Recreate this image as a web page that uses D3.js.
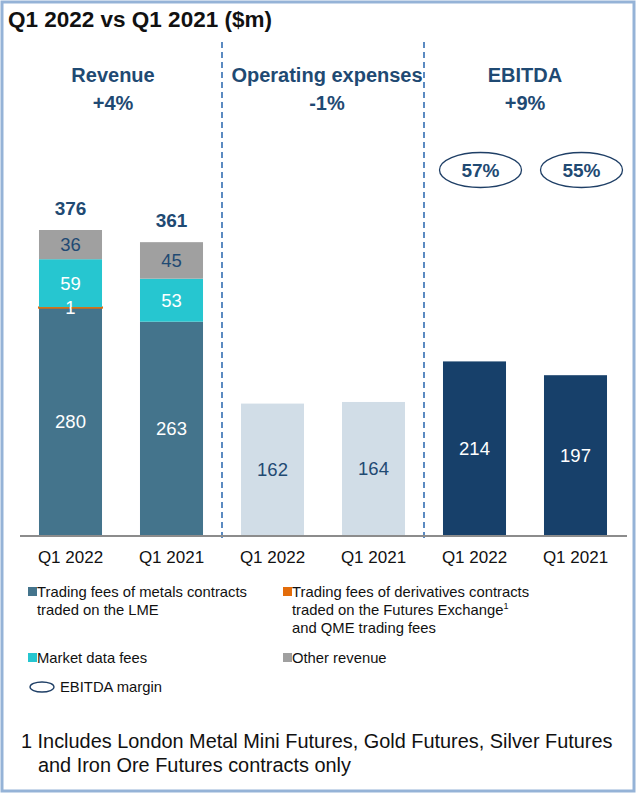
<!DOCTYPE html>
<html>
<head>
<meta charset="utf-8">
<script src="https://cdn.jsdelivr.net/npm/d3@7"></script>
<style>
  body { margin: 0; background: #fff; }
  svg { font-family: "Liberation Sans", Arial, sans-serif; }
</style>
</head>
<body>
<div id="chart"></div>
<script>
// data ($m)
const periods = ["Q1 2022", "Q1 2021"];
const tradingLME = [280, 263];
const tradingFutures = [1, 0];
const marketData = [59, 53];
const otherRevenue = [36, 45];
const revenueTotal = [376, 361];
const opex = [162, 164];
const ebitda = [214, 197];
const ebitdaMargin = ["57%", "55%"];
const sections = ["Revenue", "Operating expenses", "EBITDA"];
const sectionChange = ["+4%", "-1%", "+9%"];

const W = 637, H = 794;
const cText = "#1f4a73";
const colors = {
  lme: "#44748c",
  fut: "#e36c0a",
  mkt: "#26c6d0",
  oth: "#a0a0a0",
  opex: "#d1dde7",
  ebitda: "#17406a"
};

const svg = d3.select("#chart").append("svg")
  .attr("width", W)
  .attr("height", H);

// frame
svg.append("rect")
  .attr("x", 2).attr("y", 2)
  .attr("width", W - 5).attr("height", H - 5)
  .attr("fill", "none")
  .attr("stroke", "#95b3d7")
  .attr("stroke-width", 3);

svg.append("text")
  .attr("x", 8).attr("y", 27)
  .style("font-size", "22.5px")
  .style("font-weight", "bold")
  .attr("fill", "#111")
  .text("Q1 2022 vs Q1 2021 ($m)");

// one band per bar
const keys = [];
sections.forEach((s, i) => periods.forEach((p, j) => keys.push(i + "-" + j)));

const x = d3.scaleBand()
  .domain(keys)
  .range([20, 626])
  .paddingInner(0.376)
  .paddingOuter(0.188);

const y = d3.scaleLinear()
  .domain([0, 376])
  .range([535, 230]);

const bw = x.bandwidth();
const sectionCenter = i => (x(i + "-0") + x(i + "-1") + bw) / 2;
const headerShift = [-8, 4, 0];

// section dividers
[0, 1].forEach(i => {
  const xd = (x(i + "-1") + bw + x((i + 1) + "-0")) / 2;
  svg.append("line")
    .attr("x1", xd).attr("x2", xd)
    .attr("y1", 42).attr("y2", 540)
    .attr("stroke", "#4a7ebb")
    .attr("stroke-width", 1.8)
    .attr("stroke-dasharray", "6,4");
});

// section headers
sections.forEach((s, i) => {
  const cx = sectionCenter(i) + headerShift[i];
  svg.append("text")
    .attr("x", cx).attr("y", 82)
    .attr("text-anchor", "middle")
    .style("font-size", "20px").style("font-weight", "bold")
    .attr("fill", cText)
    .text(s);
  svg.append("text")
    .attr("x", cx).attr("y", 110)
    .attr("text-anchor", "middle")
    .style("font-size", "20px").style("font-weight", "bold")
    .attr("fill", cText)
    .text(sectionChange[i]);
});

// revenue stacks
const stackKeys = ["lme", "fut", "mkt", "oth"];
const revRows = periods.map((p, j) => ({
  key: "0-" + j,
  lme: tradingLME[j], fut: tradingFutures[j], mkt: marketData[j], oth: otherRevenue[j]
}));
const stacked = d3.stack().keys(stackKeys)(revRows);
const labelColor = { lme: "#fff", fut: "#fff", mkt: "#fff", oth: cText };

stacked.forEach(layer => {
  layer.forEach(d => {
    const v = d[1] - d[0];
    if (v <= 0) return;
    if (layer.key === "fut") {
      svg.append("rect")
        .attr("x", x(d.data.key) - 1).attr("width", bw + 2)
        .attr("y", y(d[1]) - 0.6).attr("height", 2.2)
        .attr("fill", colors.fut);
    } else {
      svg.append("rect")
        .attr("x", x(d.data.key)).attr("width", bw)
        .attr("y", y(d[1])).attr("height", y(d[0]) - y(d[1]))
        .attr("fill", colors[layer.key]);
    }
  });
});
stacked.forEach(layer => {
  layer.forEach(d => {
    const v = d[1] - d[0];
    if (v <= 0) return;
    svg.append("text")
      .attr("x", x(d.data.key) + bw / 2)
      .attr("y", y((d[0] + d[1]) / 2))
      .attr("dy", "0.35em")
      .attr("text-anchor", "middle")
      .style("font-size", "18.5px")
      .attr("fill", labelColor[layer.key])
      .text(v);
  });
});
revenueTotal.forEach((t, j) => {
  svg.append("text")
    .attr("x", x("0-" + j) + bw / 2).attr("y", y(t) - 15)
    .attr("text-anchor", "middle")
    .style("font-size", "19px").style("font-weight", "bold")
    .attr("fill", cText)
    .text(t);
});

// opex and ebitda bars
const simple = [
  { sec: 1, vals: opex, fill: colors.opex, txt: cText },
  { sec: 2, vals: ebitda, fill: colors.ebitda, txt: "#fff" }
];
simple.forEach(s => {
  s.vals.forEach((v, j) => {
    const k = s.sec + "-" + j;
    svg.append("rect")
      .attr("x", x(k)).attr("width", bw)
      .attr("y", y(v)).attr("height", y(0) - y(v))
      .attr("fill", s.fill);
    svg.append("text")
      .attr("x", x(k) + bw / 2).attr("y", y(v / 2))
      .attr("dy", "0.35em")
      .attr("text-anchor", "middle")
      .style("font-size", "18.5px")
      .attr("fill", s.txt)
      .text(v);
  });
});

// EBITDA margin ellipses
ebitdaMargin.forEach((m, j) => {
  const cx = x("2-" + j) + bw / 2 + 6;
  svg.append("ellipse")
    .attr("cx", cx).attr("cy", 170)
    .attr("rx", 41).attr("ry", 17.5)
    .attr("fill", "none")
    .attr("stroke", "#1f3f66").attr("stroke-width", 1.3);
  svg.append("text")
    .attr("x", cx).attr("y", 170).attr("dy", "0.35em")
    .attr("text-anchor", "middle")
    .style("font-size", "19px").style("font-weight", "bold")
    .attr("fill", cText)
    .text(m);
});

// x axis
const xAxis = svg.append("g")
  .attr("transform", `translate(0, ${y(0)})`)
  .call(d3.axisBottom(x).tickSize(0).tickPadding(16)
    .tickFormat(k => periods[+k.split("-")[1]]));
xAxis.select(".domain").remove();
xAxis.selectAll("text")
  .style("font-size", "17px")
  .style("font-family", "'Liberation Sans', Arial, sans-serif")
  .attr("fill", "#111");
svg.append("line")
  .attr("x1", 20).attr("x2", 627)
  .attr("y1", y(0) + 1).attr("y2", y(0) + 1)
  .attr("stroke", "#8c8c8c").attr("stroke-width", 2);

// legend
const legend = [
  { c: colors.lme, x: 28, y: 597, lines: ["Trading fees of metals contracts", "traded on the LME"] },
  { c: colors.fut, x: 283, y: 597, lines: ["Trading fees of derivatives contracts", "traded on the Futures Exchange", "and QME trading fees"] },
  { c: colors.mkt, x: 28, y: 663, lines: ["Market data fees"] },
  { c: colors.oth, x: 283, y: 663, lines: ["Other revenue"] }
];
legend.forEach(l => {
  svg.append("rect")
    .attr("x", l.x).attr("y", l.y - 10)
    .attr("width", 9).attr("height", 9)
    .attr("fill", l.c);
  const t = svg.append("text")
    .attr("x", l.x + 9).attr("y", l.y)
    .style("font-size", "14.8px").attr("fill", "#111");
  l.lines.forEach((ln, i) => {
    t.append("tspan").attr("x", l.x + 9).attr("y", l.y + i * 18).text(ln);
    if (ln === "traded on the Futures Exchange") {
      t.append("tspan").attr("dy", -6).style("font-size", "9px").text("1");
    }
  });
});
svg.append("ellipse")
  .attr("cx", 42).attr("cy", 687)
  .attr("rx", 12).attr("ry", 5)
  .attr("fill", "none")
  .attr("stroke", "#1f3f66").attr("stroke-width", 1.3);
svg.append("text")
  .attr("x", 60).attr("y", 692)
  .style("font-size", "14.8px").attr("fill", "#111")
  .text("EBITDA margin");

// footnote
const foot = svg.append("text")
  .style("font-size", "19.9px").attr("fill", "#111");
foot.append("tspan").attr("x", 21).attr("y", 748)
  .text("1 Includes London Metal Mini Futures, Gold Futures, Silver Futures");
foot.append("tspan").attr("x", 38).attr("y", 772)
  .text("and Iron Ore Futures contracts only");
</script>
</body>
</html>
